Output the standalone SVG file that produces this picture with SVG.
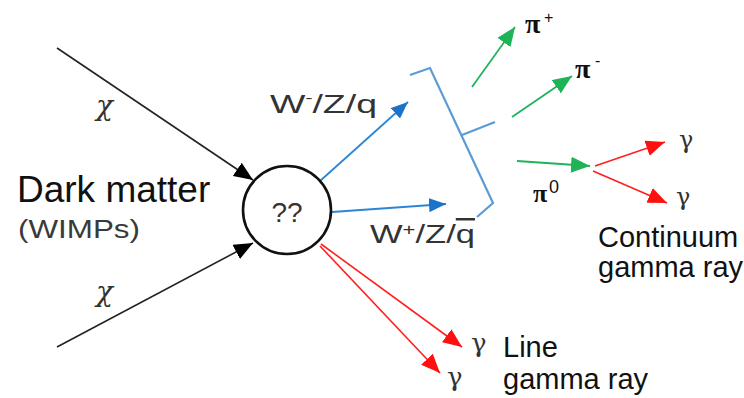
<svg xmlns="http://www.w3.org/2000/svg" width="744" height="398" viewBox="0 0 744 398">
<style>
.sans{font-family:"Liberation Sans",Arial,sans-serif}
.sym{font-family:"Liberation Serif","DejaVu Serif",serif}
.gr{font-family:"DejaVu Serif","Liberation Serif",serif}
.lbl{fill:#333}
.k{stroke:#222;stroke-width:1.6;fill:none}
.b{stroke:#2c86d6;stroke-width:1.8;fill:none}
.br{stroke:#5b9bd5;stroke-width:2.2;fill:none}
.g{stroke:#1fb35a;stroke-width:1.8;fill:none}
.r{stroke:#ff2020;stroke-width:1.6;fill:none}
</style>
<defs>
<marker id="ak" markerUnits="userSpaceOnUse" markerWidth="19" markerHeight="16" refX="19" refY="8" orient="auto"><path d="M0,0 L19,8 L0,16 z" fill="#000"/></marker>
<marker id="ab" markerUnits="userSpaceOnUse" markerWidth="17" markerHeight="14" refX="17" refY="7" orient="auto"><path d="M0,0 L17,7 L0,14 z" fill="#1a73c8"/></marker>
<marker id="ag" markerUnits="userSpaceOnUse" markerWidth="19" markerHeight="16" refX="19" refY="8" orient="auto"><path d="M0,0 L19,8 L0,16 z" fill="#1db356"/></marker>
<marker id="ar" markerUnits="userSpaceOnUse" markerWidth="19" markerHeight="16" refX="19" refY="8" orient="auto"><path d="M0,0 L19,8 L0,16 z" fill="#ff1010"/></marker>
</defs>
<rect width="744" height="398" fill="#fff"/>

<g id="connectors">
<line class="k" x1="57" y1="48" x2="253" y2="180" marker-end="url(#ak)"/>
<line class="k" x1="57" y1="347" x2="253" y2="243" marker-end="url(#ak)"/>
<line class="b" x1="320" y1="181" x2="408" y2="102" marker-end="url(#ab)"/>
<line class="b" x1="332" y1="212" x2="446" y2="204" marker-end="url(#ab)"/>
<polyline class="br" points="410,75 430,68 493,203 477,217"/>
<line class="br" x1="462" y1="135" x2="495" y2="122"/>
<line class="g" x1="472" y1="87" x2="515" y2="27" marker-end="url(#ag)"/>
<line class="g" x1="512" y1="117" x2="572" y2="76" marker-end="url(#ag)"/>
<line class="g" x1="517" y1="161" x2="590" y2="166" marker-end="url(#ag)"/>
<line class="r" x1="595" y1="166" x2="665" y2="142" marker-end="url(#ar)"/>
<line class="r" x1="593" y1="171" x2="667" y2="203" marker-end="url(#ar)"/>
<line class="r" x1="321" y1="244" x2="462" y2="347" marker-end="url(#ar)"/>
<line class="r" x1="320" y1="246" x2="440" y2="373" marker-end="url(#ar)"/>
</g>

<g id="node-center">
<circle cx="287" cy="210" r="44" fill="#fff" stroke="#111" stroke-width="2.6"/>
<text class="sans lbl" x="287" y="222" font-size="28" text-anchor="middle">??</text>
</g>

<g id="node-darkmatter">
<text class="sans" x="17" y="202" font-size="37" fill="#111">Dark matter</text>
<text class="sans" x="18" y="238" font-size="25" fill="#3a3a3a" textLength="122" lengthAdjust="spacingAndGlyphs">(WIMPs)</text>
</g>

<g id="labels-chi">
<text class="gr lbl" x="96" y="115" font-size="28" font-style="italic">χ</text>
<text class="gr lbl" x="96" y="301" font-size="28" font-style="italic">χ</text>
</g>

<g id="node-wminus">
<text class="sans lbl" x="270" y="113" font-size="25" textLength="107" lengthAdjust="spacingAndGlyphs">W<tspan font-size="14" dy="-10">-</tspan><tspan dy="10">/Z/q</tspan></text>
</g>

<g id="node-wplus">
<text class="sans lbl" x="370" y="243" font-size="25" textLength="105" lengthAdjust="spacingAndGlyphs">W<tspan font-size="16" dy="-8">+</tspan><tspan dy="8">/Z/</tspan><tspan text-decoration="overline">q</tspan></text>
</g>

<g id="node-piplus">
<text class="sym" x="525" y="33" font-size="28" font-weight="bold" fill="#111">π</text>
<text class="sans" x="544" y="23" font-size="16" fill="#111">+</text>
</g>
<g id="node-piminus">
<text class="sym" x="575" y="78" font-size="28" font-weight="bold" fill="#111">π</text>
<text class="sans" x="595" y="66" font-size="16" fill="#111">-</text>
</g>
<g id="node-pizero">
<text class="sym" x="533" y="202" font-size="26" font-weight="bold" fill="#111">π</text>
<text class="sans" x="549" y="193" font-size="18" fill="#111">0</text>
</g>

<g id="node-gamma-cont">
<text class="gr lbl" x="679" y="148" font-size="24">γ</text>
<text class="gr lbl" x="676" y="205" font-size="24">γ</text>
<text class="sans" x="598" y="247" font-size="29" fill="#111">Continuum</text>
<text class="sans" x="598" y="277" font-size="29" fill="#111">gamma ray</text>
</g>

<g id="node-gamma-line">
<text class="gr lbl" x="471" y="352" font-size="26">γ</text>
<text class="gr lbl" x="447" y="386" font-size="26">γ</text>
<text class="sans" x="503" y="357" font-size="29" fill="#111">Line</text>
<text class="sans" x="503" y="389" font-size="29" fill="#111">gamma ray</text>
</g>
</svg>
